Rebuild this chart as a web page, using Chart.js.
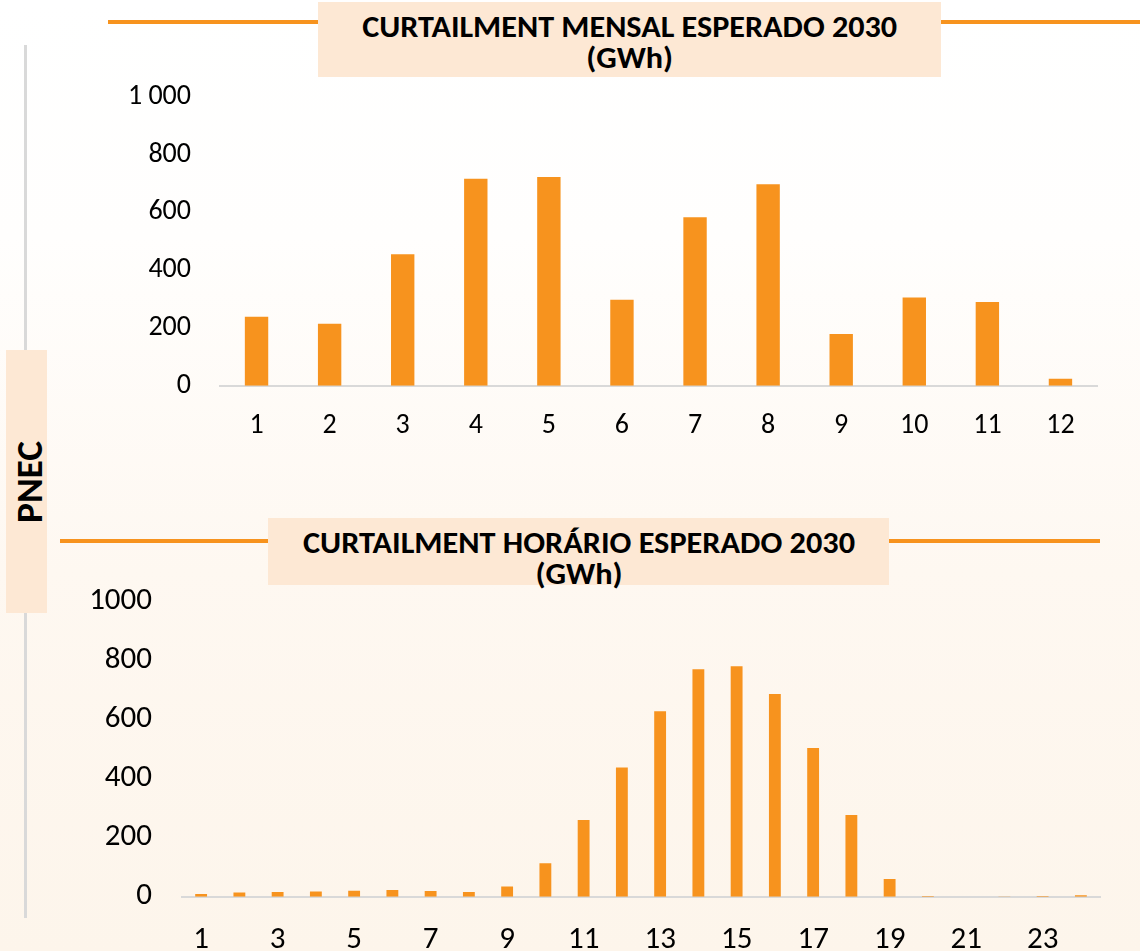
<!DOCTYPE html>
<html>
<head>
<meta charset="utf-8">
<script src="https://cdn.jsdelivr.net/npm/chart.js@4.4.1/dist/chart.umd.min.js"></script>
<style>
  html, body { margin: 0; padding: 0; }
  body {
    width: 1140px; height: 951px; position: relative; overflow: hidden;
    background: linear-gradient(to bottom, #ffffff 0%, #fffefd 25%, #fef8f1 60%, #fdf5eb 100%);
    font-family: 'Carlito', 'Open Sans', sans-serif;
  }
  .vline { position: absolute; left: 24px; top: 45px; width: 3px; height: 873px; background: #d9d9d9; }
  .hline { position: absolute; height: 4px; background: #f7931e; }
  .titlebox { position: absolute; background: #fde8d4; }
  .title {
    position: absolute; left: 0; white-space: nowrap; font-weight: bold; color: #000;
    font-size: 31px; line-height: 31px; text-align: center;
  }
  .title span { display: inline-block; transform-origin: center center; }
  .pnecbox { position: absolute; left: 6px; top: 350px; width: 41px; height: 263px; background: #fde8d4; }
  .pnec {
    position: absolute; left: 30px; top: 482px; font-weight: bold; font-size: 36px; white-space: nowrap;
    color: #000; line-height: 36px;
  }
  canvas { position: absolute; }
</style>
</head>
<body>
<div class="vline"></div>
<div class="hline" style="left:108px; top:20px; width:1032px;"></div>
<div class="hline" style="left:60px; top:539px; width:1040px;"></div>

<div class="titlebox" style="left:318px; top:2px; width:623px; height:75px;"></div>
<div class="title" style="left:318px; width:623px; top:11px;"><span class="fit" data-w="535">CURTAILMENT MENSAL ESPERADO 2030<br>(GWh)</span></div>

<div class="titlebox" style="left:268px; top:518px; width:621px; height:67px;"></div>
<div class="title" style="left:268px; width:621px; top:527px;"><span class="fit" data-w="552">CURTAILMENT HORÁRIO ESPERADO 2030<br>(GWh)</span></div>

<div class="pnecbox"></div>
<div class="pnec" id="pnec">PNEC</div>

<canvas id="monthly-chart" width="1010" height="380" style="left:100px; top:80px;"></canvas>
<canvas id="hourly-chart" width="1060" height="366" style="left:60px; top:585px;"></canvas>

<script>
const months = ['1', '2', '3', '4', '5', '6', '7', '8', '9', '10', '11', '12'];
const monthlyCurtailment = [239, 214, 455, 716, 722, 297, 583, 697, 179, 305, 290, 24];

const hours = ['1', '2', '3', '4', '5', '6', '7', '8', '9', '10', '11', '12',
    '13', '14', '15', '16', '17', '18', '19', '20', '21', '22', '23', '24'];
const hourlyCurtailment = [9, 14, 16, 18, 20, 23, 19, 16, 35, 113, 260, 438,
    629, 771, 781, 687, 504, 277, 60, 2, 0, 1, 2, 5];

const yMin = 0;
const yMax = 1000;
const yStep = 200;

const barColor = '#f7931e';
const axisColor = '#d9d9d9';
const fontFamily = "'Carlito', 'Open Sans', sans-serif";

// titles: squeeze to the width of the original in case the font differs
document.querySelectorAll('.fit').forEach(el => {
    const first = el.firstChild.textContent;
    const probe = document.createElement('span');
    probe.style.cssText = 'position:absolute;visibility:hidden;white-space:nowrap;font-weight:bold;font-size:31px;';
    probe.style.fontFamily = getComputedStyle(el).fontFamily;
    probe.textContent = first;
    document.body.appendChild(probe);
    const w = probe.getBoundingClientRect().width;
    probe.remove();
    el.style.transform = 'scaleX(' + (Number(el.dataset.w) / w) + ')';
});

const pnec = document.getElementById('pnec');
const pw = pnec.getBoundingClientRect().width;
pnec.style.transform = 'translate(-50%, -50%) rotate(-90deg) scaleX(' + (82 / pw) + ')';

function spaced(value) {
    return String(value).replace(/\B(?=(\d{3})+(?!\d))/g, ' ');
}

function makeBarChart(canvasId, labels, values, opts) {
    const ctx = document.getElementById(canvasId).getContext('2d');
    const tickFont = { family: fontFamily, size: opts.fontSize };
    return new Chart(ctx, {
        type: 'bar',
        data: {
            labels: labels,
            datasets: [{
                data: values,
                backgroundColor: barColor,
                borderWidth: 0,
                barPercentage: opts.barPercentage,
                categoryPercentage: 1
            }]
        },
        options: {
            responsive: false,
            animation: false,
            devicePixelRatio: 1,
            layout: { padding: opts.padding },
            plugins: { legend: { display: false }, tooltip: { enabled: false } },
            scales: {
                x: {
                    grid: { display: false, drawTicks: false },
                    border: { display: true, color: axisColor, width: 2 },
                    ticks: {
                        color: '#000',
                        font: tickFont,
                        padding: opts.xPad,
                        autoSkip: false,
                        maxRotation: 0,
                        callback: opts.xLabel
                    },
                    afterFit: scale => {
                        scale.height = opts.xHeight;
                        scale.paddingLeft = 0;
                        scale.paddingRight = 0;
                    }
                },
                y: {
                    min: yMin,
                    max: yMax,
                    grid: { display: false, drawTicks: false },
                    border: { display: false },
                    ticks: {
                        stepSize: yStep,
                        color: '#000',
                        font: tickFont,
                        padding: opts.yPad,
                        callback: opts.yLabel
                    },
                    afterFit: scale => {
                        scale.width = opts.yWidth;
                        scale.paddingTop = 0;
                        scale.paddingBottom = 0;
                    }
                }
            }
        }
    });
}

makeBarChart('monthly-chart', months, monthlyCurtailment, {
    barPercentage: 0.32,
    fontSize: 28,
    padding: { left: 0, right: 13, top: 16.7, bottom: 0 },
    xHeight: 74.3,
    yWidth: 120,
    xPad: 23,
    yPad: 29,
    xLabel: (val, i) => months[i],
    yLabel: value => spaced(value)
});

makeBarChart('hourly-chart', hours, hourlyCurtailment, {
    barPercentage: 0.31,
    fontSize: 31,
    padding: { left: 0, right: 20, top: 16.7, bottom: 0 },
    xHeight: 54.3,
    yWidth: 122,
    xPad: 25,
    yPad: 30,
    xLabel: (val, i) => (i % 2 === 0 ? hours[i] : ''),
    yLabel: value => String(value)
});
</script>
</body>
</html>
